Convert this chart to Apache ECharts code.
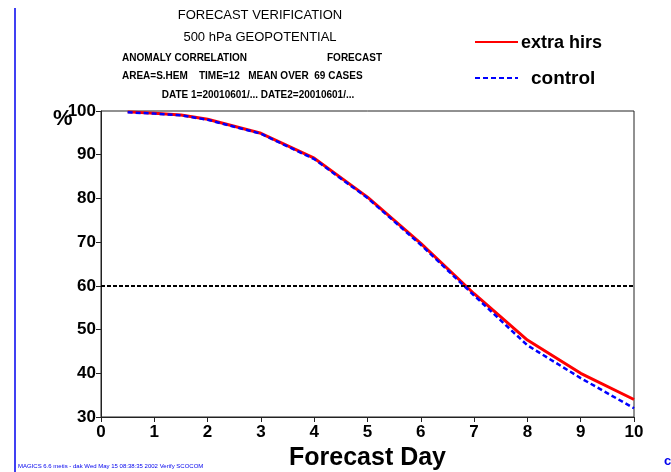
<!DOCTYPE html>
<html>
<head>
<meta charset="utf-8">
<title>Forecast verification</title>
<script src="https://cdn.jsdelivr.net/npm/echarts@6/dist/echarts.min.js"></script>
<style>
  html, body { margin: 0; padding: 0; background: #fff; }
  #chart { width: 671px; height: 472px; }
</style>
</head>
<body>
<div id="chart"></div>
<script>
// forecast day (x) and anomaly correlation (%)
var days = [0.5, 1, 1.5, 2, 3, 4, 5, 6, 7, 8, 9, 10];
var extraHirs = [99.8, 99.5, 99.1, 98.1, 94.9, 89.2, 80.3, 69.7, 58.2, 47.6, 40.0, 34.0];
var control = [99.7, 99.4, 99.0, 98.0, 94.8, 89.0, 80.1, 69.4, 57.8, 46.4, 38.9, 32.0];
var xTicks = [0, 1, 2, 3, 4, 5, 6, 7, 8, 9, 10];
var yTicks = [30, 40, 50, 60, 70, 80, 90, 100];
var refLevel = 60;

function pairs(xs, ys) {
  var out = [];
  xs.forEach(function (x, i) { out.push([x, ys[i]]); });
  return out;
}

var chart = echarts.init(document.getElementById("chart"));
var font = "Liberation Sans, Arial, sans-serif";

chart.setOption({
  backgroundColor: "#fff",
  animation: false,
  textStyle: { fontFamily: font },
  grid: {
    left: 101, right: 37, top: 111, bottom: 55,
    outerBoundsMode: "none",
    containLabel: false,
    show: true, borderColor: "#222", borderWidth: 1
  },
  xAxis: {
    type: "value",
    min: xTicks[0], max: xTicks[xTicks.length - 1], interval: 1,
    name: "Forecast Day",
    nameLocation: "middle",
    nameGap: 23,
    nameTextStyle: { fontFamily: font, fontSize: 25, fontWeight: "bold", color: "#000" },
    axisLine: { show: true, lineStyle: { color: "#222", width: 1 } },
    axisTick: { show: true, inside: false, length: 5, lineStyle: { color: "#222" } },
    axisLabel: { fontFamily: font, fontSize: 17, fontWeight: "bold", color: "#000", margin: 7 },
    splitLine: { show: false }
  },
  yAxis: {
    type: "value",
    min: yTicks[0], max: yTicks[yTicks.length - 1], interval: 10,
    axisLine: { show: true, lineStyle: { color: "#222", width: 1 } },
    axisTick: { show: true, inside: false, length: 5, lineStyle: { color: "#222" } },
    axisLabel: { fontFamily: font, fontSize: 17, fontWeight: "bold", color: "#000", margin: 5 },
    splitLine: { show: false }
  },
  graphic: [
    // left margin rule of the plot sheet
    { type: "line", shape: { x1: 15, y1: 8, x2: 15, y2: 472 }, style: { stroke: "#0000ee", lineWidth: 1.5 } },
    { type: "text", x: 53, y: 108, style: { text: "%", font: "bold 22px " + font, fill: "#000" } },
    { type: "text", x: 260, y: 9, style: { text: "FORECAST VERIFICATION", font: "13px " + font, fill: "#000", align: "center" } },
    { type: "text", x: 260, y: 31, style: { text: "500 hPa GEOPOTENTIAL", font: "13px " + font, fill: "#000", align: "center" } },
    { type: "text", x: 122, y: 53, style: { text: "ANOMALY CORRELATION", font: "bold 10px " + font, fill: "#000" } },
    { type: "text", x: 327, y: 53, style: { text: "FORECAST", font: "bold 10px " + font, fill: "#000" } },
    { type: "text", x: 122, y: 71, style: { text: "AREA=S.HEM    TIME=12   MEAN OVER  69 CASES", font: "bold 10px " + font, fill: "#000" } },
    { type: "text", x: 258, y: 90, style: { text: "DATE 1=20010601/... DATE2=20010601/...", font: "bold 10px " + font, fill: "#000", align: "center" } },
    // legend
    { type: "line", shape: { x1: 475, y1: 42, x2: 518, y2: 42 }, style: { stroke: "#ff0000", lineWidth: 2 } },
    { type: "text", x: 521, y: 34, style: { text: "extra hirs", font: "bold 18px " + font, fill: "#000" } },
    { type: "line", shape: { x1: 475, y1: 78, x2: 518, y2: 78 }, style: { stroke: "#0000ff", lineWidth: 2, lineDash: [5, 3] } },
    { type: "text", x: 531, y: 69, style: { text: "control", font: "bold 19px " + font, fill: "#000" } },
    { type: "text", x: 18, y: 463, style: { text: "MAGICS 6.6 metis - dak Wed May 15 08:38:35 2002 Verify SCOCOM", font: "6px " + font, fill: "#0000ee" } },
    { type: "text", x: 664, y: 455, style: { text: "c", font: "bold 13px " + font, fill: "#0000ee" } }
  ],
  series: [
    {
      name: "extra hirs",
      type: "line",
      symbol: "none",
      itemStyle: { color: "#ff0000" },
      lineStyle: { color: "#ff0000", width: 3 },
      data: pairs(days, extraHirs),
      markLine: {
        silent: true,
        symbol: "none",
        label: { show: false },
        lineStyle: { color: "#000", type: [4, 2], width: 2 },
        data: [{ yAxis: refLevel }]
      }
    },
    {
      name: "control",
      type: "line",
      symbol: "none",
      itemStyle: { color: "#0000ff" },
      lineStyle: { color: "#0000ff", width: 2.5, type: [5, 3] },
      data: pairs(days, control)
    }
  ]
});
</script>
</body>
</html>
